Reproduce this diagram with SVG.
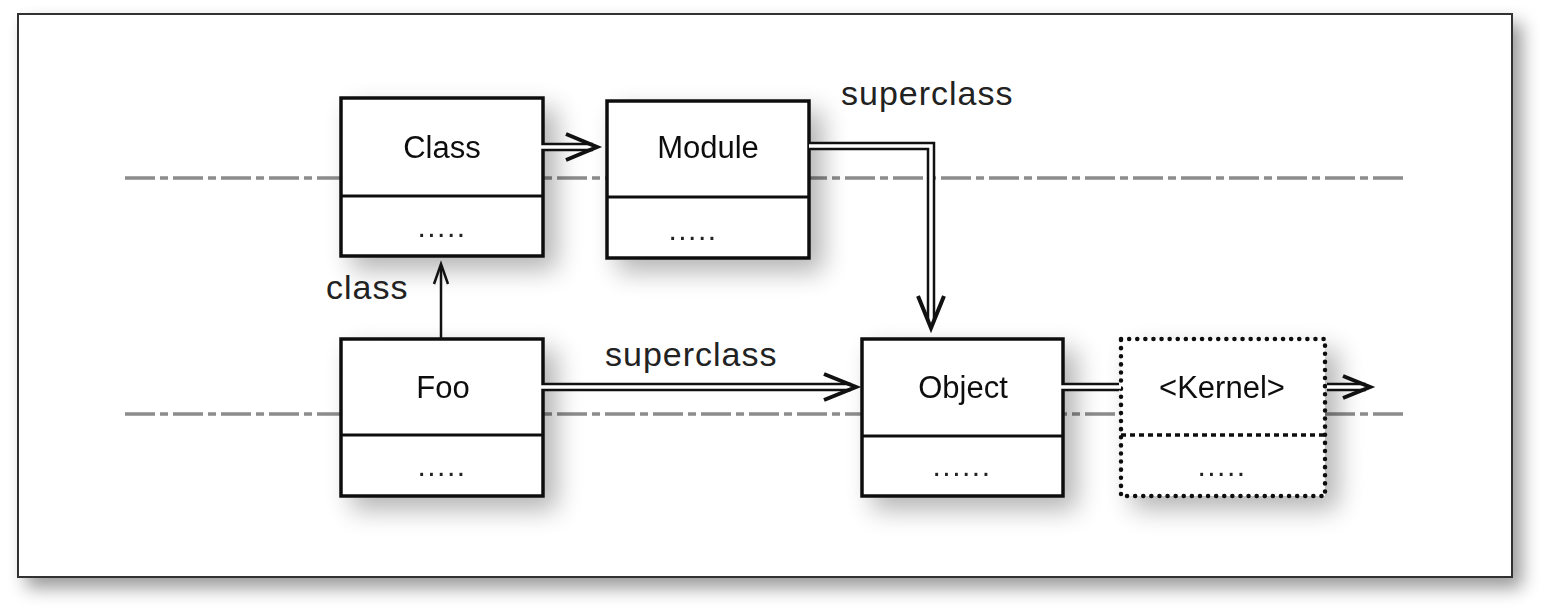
<svg xmlns="http://www.w3.org/2000/svg" width="1546" height="610" viewBox="0 0 1546 610">
<defs>
<filter id="fshadow" x="-10%" y="-10%" width="130%" height="140%">
<feGaussianBlur in="SourceAlpha" stdDeviation="9"/>
<feOffset dx="9" dy="10" result="b"/>
<feComponentTransfer><feFuncA type="linear" slope="0.4"/></feComponentTransfer>
<feMerge><feMergeNode/><feMergeNode in="SourceGraphic"/></feMerge>
</filter>
<filter id="bshadow" x="-30%" y="-30%" width="170%" height="170%">
<feGaussianBlur in="SourceAlpha" stdDeviation="13"/>
<feOffset dx="12" dy="12" result="b"/>
<feComponentTransfer><feFuncA type="linear" slope="0.3"/></feComponentTransfer>
<feMerge><feMergeNode/><feMergeNode in="SourceGraphic"/></feMerge>
</filter>
</defs>
<style>
.box{fill:#fff;stroke:#111;stroke-width:3.5}
.div{stroke:#111;stroke-width:3}
.dbox{fill:#fff;stroke:#111;stroke-width:4.5;stroke-dasharray:0.1 8;stroke-linecap:round}
.ddiv{stroke:#111;stroke-width:3.5;stroke-dasharray:5 4}
.name{font-family:"Liberation Sans",Arial,sans-serif;font-size:31px;fill:#111;text-anchor:middle}
.dots{font-family:"Liberation Sans",Arial,sans-serif;font-size:30px;fill:#222;text-anchor:middle;letter-spacing:1.5px}
.lbl{font-family:"Liberation Sans",Arial,sans-serif;font-size:34px;fill:#222;letter-spacing:1px}
.axis{stroke:#8c8c8c;stroke-width:3.5;stroke-dasharray:30 5 8 5;fill:none}
.douter{fill:none;stroke:#111;stroke-width:8.5}
.dinner{fill:none;stroke:#fff;stroke-width:3.5}
.head{fill:none;stroke:#111;stroke-width:4;stroke-linejoin:miter}
.single{fill:none;stroke:#111;stroke-width:2.5}
</style>
<rect x="0" y="0" width="1546" height="610" fill="#fff"/>
<rect x="18" y="14" width="1494" height="563" fill="#fff" stroke="#333" stroke-width="2" filter="url(#fshadow)"/>
<g id="axes">
<line class="axis" x1="125" y1="178" x2="1405" y2="178"/>
<line class="axis" x1="125" y1="414" x2="1405" y2="414"/>
</g>
<g id="node-class" filter="url(#bshadow)">
<rect class="box" x="341" y="98" width="202" height="158"/>
<line class="div" x1="341" y1="196" x2="543" y2="196"/>
<text class="name" x="442" y="158">Class</text>
<text class="dots" x="442" y="237">.....</text>
</g>
<g id="node-module" filter="url(#bshadow)">
<rect class="box" x="607" y="101" width="202" height="157"/>
<line class="div" x1="607" y1="197" x2="809" y2="197"/>
<text class="name" x="708" y="158">Module</text>
<text class="dots" x="693" y="240">.....</text>
</g>
<g id="node-foo" filter="url(#bshadow)">
<rect class="box" x="341" y="339" width="202" height="157"/>
<line class="div" x1="341" y1="435" x2="543" y2="435"/>
<text class="name" x="443" y="398">Foo</text>
<text class="dots" x="442" y="476">.....</text>
</g>
<g id="node-object" filter="url(#bshadow)">
<rect class="box" x="862" y="339" width="201" height="157"/>
<line class="div" x1="862" y1="436" x2="1063" y2="436"/>
<text class="name" x="963" y="398">Object</text>
<text class="dots" x="962" y="476">......</text>
</g>
<g id="node-kernel" filter="url(#bshadow)">
<rect class="dbox" x="1121" y="339" width="204" height="157"/>
<line class="ddiv" x1="1121" y1="435" x2="1325" y2="435"/>
<text class="name" x="1222" y="398">&lt;Kernel&gt;</text>
<text class="dots" x="1222" y="476">.....</text>
</g>
<g id="connectors">
<path class="douter" d="M543 147 H593"/>
<path class="dinner" d="M541 147 H593"/>
<path class="head" d="M566 134 L597 147 L566 160"/>
<path class="douter" d="M809 146 H931 V322"/>
<path class="dinner" d="M809 146 H931 V324"/>
<path class="head" d="M918 296 L931 328 L944 296"/>
<path class="single" d="M441 339 V266"/>
<path class="head" style="stroke-width:2.5" d="M434 284 L441 264 L448 284"/>
<path class="douter" d="M543 387 H851"/>
<path class="dinner" d="M541 387 H851"/>
<path class="head" d="M824 374 L856 387 L824 400"/>
<path class="douter" d="M1063 387 H1119"/>
<path class="dinner" d="M1061 387 H1121"/>
<path class="douter" d="M1327 387 H1366"/>
<path class="dinner" d="M1327 387 H1366"/>
<path class="head" d="M1343 376 L1370 387 L1343 398"/>
</g>
<g id="labels">
<text class="lbl" x="841" y="105">superclass</text>
<text class="lbl" x="326" y="299">class</text>
<text class="lbl" x="605" y="366">superclass</text>
</g>
</svg>
